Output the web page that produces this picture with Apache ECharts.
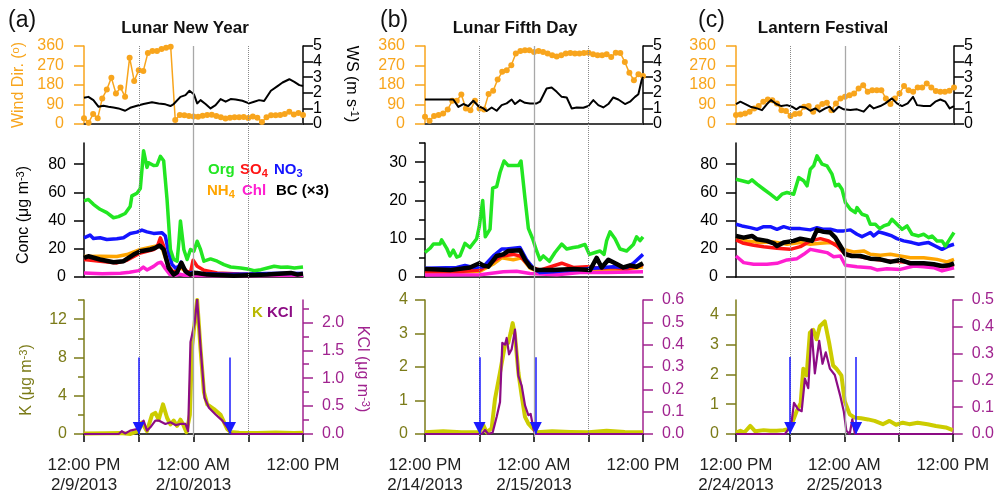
<!DOCTYPE html>
<html>
<head>
<meta charset="utf-8">
<script src="https://cdn.jsdelivr.net/npm/echarts@6/dist/echarts.min.js"></script>
<style>
  html, body { margin: 0; padding: 0; background: #fff; }
  #chart { width: 997px; height: 495px; }
</style>
</head>
<body>
<div id="chart"></div>
<script>
// ---------- data (hours after 12:00 PM of the first day) ----------
const titles = ['Lunar New Year', 'Lunar Fifth Day', 'Lantern Festival'];
const panelTags = ['(a)', '(b)', '(c)'];
const timeTicks = ['12:00 PM', '', '12:00 AM', '', '12:00 PM'];
const dateTicks = [
  ['2/9/2013', '', '2/10/2013', '', ''],
  ['2/14/2013', '', '2/15/2013', '', ''],
  ['2/24/2013', '', '2/25/2013', '', '']
];
const guideHours = [6, 12, 18];

// wind direction, one point every half hour
const wdA = [26,6,46,26,118,159,214,141,168,126,306,199,248,245,328,337,337,346,352,357,18,41,40,37,35,34,38,41,43,37,31,25,29,31,31,32,28,35,29,9,31,40,40,41,46,57,44,51,41];
const wdB = [34,15,37,41,49,67,107,107,136,72,64,107,72,67,138,153,205,241,248,271,325,337,340,340,332,337,332,325,317,312,317,325,328,325,325,328,329,322,317,317,322,309,329,328,286,236,202,230,221];
const wdC = [41,44,49,57,72,83,103,113,110,95,64,60,37,46,49,80,83,57,77,92,98,64,95,118,126,133,141,164,179,149,156,156,156,118,92,118,141,175,156,149,168,168,187,168,152,149,149,153,168];

// wind speed [hour, m/s]
const wsA = [[0,1.68],[0.48,1.74],[1.03,1.53],[1.58,1.11],[2.13,1.17],[2.68,1.11],[3.23,1.06],[3.78,1.0],[4.51,0.85],[5.06,1.04],[5.8,1.17],[6.53,1.28],[7.45,1.4],[8.18,1.32],[8.92,1.26],[9.47,1.15],[9.83,1.28],[10.57,1.74],[11.12,1.85],[11.56,2.13],[12.04,1.91],[12.4,1.32],[12.77,1.53],[13.32,1.28],[13.87,1.0],[14.42,1.21],[14.97,1.6],[15.52,1.43],[16.07,1.6],[16.62,1.57],[17.36,1.49],[18.09,1.32],[18.64,1.43],[19.19,1.53],[19.74,1.47],[20.48,2.13],[21.21,2.43],[21.76,2.66],[22.5,2.87],[23.05,2.7],[23.6,2.49],[24,2.43]];
const wsB = [[0,1.57],[3.12,1.57],[3.67,1.1],[4.22,1.28],[4.77,1.15],[5.32,1.49],[5.87,1.15],[6.42,1.0],[6.79,0.83],[7.34,1.06],[7.89,0.85],[8.44,1.21],[8.99,1.32],[9.54,1.57],[9.91,1.28],[10.46,1.53],[11.0,1.36],[11.56,1.32],[12.29,1.32],[12.66,1.43],[13.39,2.28],[13.94,2.34],[14.5,2.06],[15.05,1.74],[15.6,1.7],[16.15,1.0],[16.7,1.06],[17.43,1.04],[17.98,1.15],[18.53,1.53],[19.08,1.21],[19.63,1.06],[20.18,1.28],[20.73,1.7],[21.28,1.57],[22.02,1.28],[22.57,1.43],[23.12,1.74],[23.49,1.91],[23.85,2.81],[24,3.02]];
const wsC = [[0,1.28],[0.48,1.43],[1.03,1.28],[1.58,1.11],[2.31,1.0],[2.86,0.89],[3.41,1.28],[3.85,1.53],[4.44,1.28],[4.99,1.15],[5.61,1.21],[6.17,1.11],[6.64,0.94],[7.08,1.11],[7.63,1.06],[8.18,0.85],[8.73,1.0],[9.21,0.79],[9.83,1.0],[10.31,1.11],[10.75,0.79],[11.3,1.11],[11.85,0.94],[12.59,0.89],[13.32,0.94],[14.06,0.79],[14.72,1.21],[15.16,1.0],[15.89,1.15],[16.44,1.32],[17.17,1.64],[17.72,1.32],[18.28,1.15],[18.9,1.32],[19.49,1.74],[19.93,1.21],[20.66,1.15],[21.39,1.15],[21.94,1.43],[22.5,1.57],[23.05,1.43],[23.52,1.0],[24,1.15]];

// concentrations [hour, ug m-3]
const orgA = [[0,54],[0.48,55],[1.03,51.5],[1.76,48],[2.5,45.6],[3.23,42],[3.78,42.8],[4.51,45],[5.06,50],[5.25,57.5],[5.8,59.4],[6.17,62.7],[6.53,89.5],[6.9,77.7],[7.08,81],[7.63,79],[8.0,79.3],[8.37,85.5],[8.73,82.4],[9.1,55],[9.47,19.5],[9.83,12.4],[10.2,11.2],[10.39,24.2],[10.57,39.7],[10.94,19.5],[11.3,12.4],[11.67,19.5],[12.04,18.3],[12.4,25.4],[12.77,19.5],[13.14,11.2],[13.87,12.8],[14.6,11.2],[15.34,8.8],[16.07,7.1],[17.17,6.4],[17.9,5.7],[18.64,4.5],[19.38,5.2],[20.1,6.4],[20.84,7.6],[21.58,6.9],[22.3,7.1],[23.05,6.4],[24,7.1]];
const so4A = [[0,12.4],[1.76,11.2],[3.6,10],[4.7,11.9],[6.17,17],[7.63,19.5],[8.0,21],[8.37,27.8],[8.73,21.9],[9.28,7.6],[9.83,2.9],[10.57,8],[11.3,4],[11.67,3.3],[11.96,11.9],[12.4,7.6],[13.14,4.8],[14.6,2.9],[17,2.2],[20,2.0],[24,2.2]];
const no3A = [[0,27.8],[0.66,29.7],[1.03,27.3],[1.76,27.8],[2.5,26.6],[3.6,27.1],[4.33,27.8],[5.06,30.9],[5.8,31.8],[6.35,33.3],[6.9,32],[7.63,30.9],[8.55,31.4],[8.92,29],[9.28,17.1],[9.65,8.8],[10.02,6.4],[10.39,7.6],[10.64,10.5],[10.94,6.4],[11.3,2.9],[12.04,3.3],[12.77,2.4],[14.5,2.2],[16,2.0],[18,2.1],[20,2.4],[22,2.6],[24,2.4]];
const nh4A = [[0,14.5],[1.76,14.7],[3.6,14.5],[4.7,15.9],[6.17,19.5],[7.8,21.9],[8.3,22.5],[8.55,20.7],[9.1,10],[9.83,1.7],[10.57,7],[11.3,2.9],[12.04,3.3],[13,2.4],[16,2.0],[20,2.2],[23,2.4],[24,1.8]];
const chlA = [[0,2.8],[2,2.3],[4,2.7],[5,3.3],[6,4.5],[6.5,7],[6.9,5],[7.63,7.5],[8.1,9.8],[8.45,10.5],[8.9,6],[9.4,1.8],[10,1.2],[10.5,2],[11,1.2],[12,1.1],[16,0.9],[20,1.0],[24,1.2]];
const bcA = [[0,13.5],[0.48,14.7],[1.76,12.4],[3.23,10.5],[4.33,11.2],[5.43,15.9],[6.17,18.3],[7.27,19.5],[7.82,20.7],[8.3,22.3],[8.73,19.5],[9.28,6.4],[9.83,1.7],[10.2,3.3],[10.68,10],[11.12,4],[11.67,1.7],[12.04,2.9],[12.4,2.9],[13.5,1.7],[16.4,0.9],[20.1,1.7],[22.67,2.9],[23.4,1.7],[24,2.4]];

const orgB = [[0,6.4],[0.55,7.5],[0.92,8.6],[1.65,8.6],[1.83,9.7],[2.39,7.5],[2.75,5.5],[3.12,7],[3.49,5.2],[3.85,5.5],[4.4,8.8],[4.95,7.7],[5.69,10],[5.98,13.2],[6.35,20],[6.64,10.5],[7.16,12.5],[7.45,23.2],[7.89,23.6],[8.26,27.3],[8.7,30.3],[9.17,29.1],[9.72,29.1],[10.28,29.1],[10.57,30.3],[11.01,20.5],[11.38,12.7],[11.85,10],[12.29,6.8],[12.66,4.5],[13.03,5.5],[13.69,4.1],[14.31,6.4],[15.05,8.6],[15.6,7.3],[16.33,7.7],[16.88,7.9],[17.61,8.5],[18.09,5.9],[18.72,6.4],[19.27,6.8],[19.71,5.9],[20.0,9.5],[20.37,11.8],[20.92,10],[21.47,7.3],[22.2,6.8],[22.94,8.5],[23.3,10.5],[23.67,9.5],[24,10.5]];
const so4B = [[0,1.4],[3.49,1.4],[6.06,1.8],[7.52,4.1],[8.44,5.5],[9.72,5.9],[10.46,5.5],[11.56,2.7],[12.66,1.8],[15.05,3.6],[16.33,2.5],[17.8,2.7],[19.27,2.3],[20.73,2.5],[22.2,2.1],[24,3.2]];
const no3B = [[0,2.3],[3.49,2.5],[4.4,3],[5.32,2.5],[6.42,2.7],[7.52,5.5],[8.44,7.3],[8.99,7.3],[10.46,7.7],[11.19,4.5],[11.93,2.3],[12.66,1.2],[14.13,1.4],[16.33,1.8],[18.53,2.3],[20.73,2.7],[22.2,2.5],[22.94,3.6],[24,5.9]];
const nh4B = [[0,0.9],[3.49,1.2],[6.06,1.5],[7.52,3.4],[8.44,5],[9.72,4.5],[10.64,5],[11.56,2.3],[12.66,1.2],[14.86,1.5],[17.06,2.3],[19.27,1.8],[21.83,1.8],[24,2.7]];
const chlB = [[0,0.5],[6.06,0.6],[8.62,1.4],[10.09,1.5],[11.56,0.9],[14.5,0.6],[17.06,1.2],[20,1.2],[24,1.4]];
const bcB = [[0,2.1],[2.75,1.8],[4.95,2.5],[5.98,3.6],[6.42,3],[6.97,2.7],[7.89,5.5],[8.62,5.9],[9.17,6.8],[10.46,7],[11.01,4.5],[11.56,2.7],[12.29,1.8],[14.13,1.8],[16.33,2.1],[18.17,1.8],[18.9,5],[19.45,2.5],[20.18,4.5],[21.1,3.4],[21.83,2.5],[22.57,3],[23.3,2.7],[24,3.6]];

const orgC = [[0,69.3],[0.66,68.2],[1.39,67],[1.76,68.9],[2.31,65.8],[3.05,62.2],[3.78,58.7],[4.51,55.1],[5.06,58.7],[5.61,59.9],[6.35,58.7],[6.9,70.5],[7.45,68.2],[7.82,64.6],[8.18,76.4],[8.55,78.8],[8.92,85.9],[9.47,80],[10.02,78.8],[10.57,72.9],[10.94,64.6],[11.3,65.8],[11.67,62.2],[12.04,52.8],[12.59,48],[13.14,45.7],[13.32,49.2],[13.87,44.5],[14.42,43.3],[14.79,37.4],[15.34,37.4],[15.82,34.3],[16.26,36.2],[16.81,37.4],[17.17,40.9],[17.72,37.4],[18.28,33.8],[18.83,36.2],[19.38,30.3],[20.11,29.1],[20.66,30.3],[21.21,27.9],[21.58,29.1],[22.13,25.6],[22.68,25.6],[23.05,22],[23.41,25.6],[24,31.5]];
const so4C = [[0,26.3],[0.84,23.9],[1.94,22.5],[3.05,21.5],[4.51,20.4],[5.98,19.6],[7.08,21.5],[8.18,25.6],[9.28,27.2],[10.2,25.6],[11.12,22],[11.85,17.3],[12.59,15.4],[13.69,14.4],[14.79,13],[15.89,12.1],[16.99,11.4],[18.46,10.7],[19.93,9.7],[21.39,9],[22.86,7.3],[24,8.3]];
const no3C = [[0,37.4],[0.66,36.2],[1.58,35],[2.31,33.8],[3.05,35.7],[3.78,35.7],[4.51,33.8],[5.25,35.7],[5.98,34.3],[7.08,34.3],[8.18,33.4],[8.92,35],[9.65,33.8],[10.39,33.8],[11.12,32.7],[11.85,32.7],[12.59,33.4],[13.32,30.3],[13.87,28.6],[14.42,30.3],[14.79,31.5],[15.16,29.1],[15.71,32],[16.26,31],[16.62,30.3],[17.17,29.1],[17.72,27.2],[18.46,25.6],[19.38,24.4],[20.11,23.2],[20.66,23.9],[21.21,24.4],[21.94,22],[22.68,19.6],[23.41,22],[24,23.2]];
const nh4C = [[0,27.9],[1.21,25.6],[2.68,24.4],[4.15,24.9],[5.61,23.2],[7.08,24.4],[8.18,23.2],[9.28,23.9],[10.39,24.4],[11.12,23.2],[11.85,19.6],[12.95,17.8],[14.06,18.5],[14.79,16.1],[15.89,15.4],[16.99,16.1],[18.09,14.9],[19.19,13.7],[20.66,13.7],[22.13,12.5],[23.23,10.7],[24,12.5]];
const chlC = [[0,14.9],[0.84,10.2],[1.94,9],[3.41,9],[4.51,9.7],[5.61,12.1],[6.72,13],[7.45,16.1],[8.18,19.6],[9.1,18.5],[10.02,17.3],[10.75,14.4],[11.49,14.9],[12.04,8.3],[13.32,7.3],[14.79,6.6],[15.52,5],[16.62,5.9],[18.09,5.4],[19.56,7.8],[20.66,7.3],[21.76,6.6],[22.68,4.3],[24,6.6]];
const bcC = [[0,29.1],[0.84,27.9],[1.76,29.1],[2.31,26.7],[3.41,25.6],[4.15,23.9],[4.51,22],[5.25,24.4],[6.35,25.6],[7.08,27.2],[7.82,26.3],[8.37,25.6],[8.92,33.4],[9.65,32],[10.39,31.5],[10.94,27.9],[11.49,22],[12.04,16.1],[12.77,14.9],[13.69,14.9],[14.79,13],[15.89,12.5],[16.99,10.7],[18.09,12.1],[19.19,9.7],[20.66,9.7],[21.76,9],[22.68,7.8],[23.41,8.3],[24,9.7]];

// potassium [hour, ug m-3]
const kA = [[0,0.05],[2.5,0.07],[4,0.1],[5.1,0],[5.6,0.2],[5.98,0.3],[6.35,1.2],[6.53,1.4],[6.9,0.3],[7.45,2],[7.82,2.2],[8.18,1.5],[8.66,3.1],[9.1,1.7],[9.47,1],[9.83,1.4],[10.2,0.85],[10.57,1.5],[10.86,1],[11.23,0.2],[11.6,2],[11.85,9.2],[12.4,14],[12.77,8.9],[13.14,4.4],[13.5,3.1],[14.24,2.6],[14.97,2.0],[15.7,0.5],[16.07,0.2],[17,0.12],[19,0.1],[21,0.15],[23,0.1],[24,0.12]];
const kclA = [[0,0],[3.8,0],[4.14,0.05],[4.51,0.01],[5.06,0.06],[5.8,0.09],[6.17,0.15],[6.53,0.24],[6.9,0.06],[7.27,0.12],[7.82,0.24],[8.18,0.24],[8.37,0.21],[8.92,0.18],[9.47,0.21],[10.02,0.16],[10.57,0.18],[11.12,0.18],[11.41,0.05],[11.67,1.65],[12.11,1.97],[12.4,2.41],[12.77,1.56],[13.21,0.65],[13.69,0.47],[14.42,0.35],[15.16,0.24],[15.7,0.12],[16.07,0.01],[16.3,0],[24,0]];
const kB = [[0,0.05],[2,0.08],[4,0.05],[5.98,0.05],[6.42,0.27],[6.79,0.05],[7.34,0.17],[7.71,1.05],[8.26,1.84],[8.81,2.67],[9.17,2.72],[9.43,3.02],[9.65,3.31],[9.91,2.92],[10.28,1.84],[10.64,1.15],[11.01,0.51],[11.38,0.31],[11.85,0.17],[12.29,0.05],[14,0.08],[16,0.06],[18,0.05],[20,0.1],[22,0.06],[24,0.05]];
const kclB = [[0,0],[6.24,0],[6.61,0.018],[6.97,0],[7.45,0.007],[7.89,0.077],[8.26,0.143],[8.51,0.408],[8.81,0.4],[8.99,0.43],[9.25,0.357],[9.54,0.38],[9.91,0.467],[10.28,0.26],[10.64,0.217],[11.01,0.128],[11.38,0.084],[11.63,0.09],[11.93,0.025],[12.11,0],[24,0]];
const kC = [[0,0.05],[0.48,0.11],[0.92,0.05],[1.58,0.27],[2.13,0.09],[3.05,0.13],[3.78,0.11],[4.51,0.11],[5.25,0.13],[5.8,0.16],[6.17,0.33],[6.72,0.77],[7.16,1.04],[7.45,2.19],[7.82,1.97],[8.18,3.4],[8.55,3.5],[8.92,3.18],[9.28,3.62],[9.83,3.78],[10.31,3.07],[10.75,2.3],[11.12,2.19],[11.67,1.97],[12.04,1.1],[12.59,0.66],[13.14,0.55],[13.87,0.53],[14.61,0.49],[15.34,0.44],[16.26,0.33],[16.99,0.44],[17.72,0.31],[18.46,0.38],[19.19,0.33],[20.11,0.38],[21.21,0.33],[22.13,0.27],[23.23,0.22],[24,0.13]];
const kclC = [[0,0],[5.43,0],[5.8,0.018],[6.17,0.049],[6.42,0.116],[6.9,0.091],[7.27,0.085],[7.63,0.207],[8.0,0.171],[8.37,0.39],[8.73,0.226],[9.21,0.348],[9.58,0.262],[9.94,0.305],[10.39,0.244],[10.94,0.22],[11.56,0.14],[11.93,0.085],[12.22,0.012],[12.59,0],[12.88,0.055],[13.17,0],[24,0]];

// blue arrows: hour of each arrow, K value at arrow top
const arrowHours = [[6, 16], [6, 12.2], [6, 13.3]];
const arrowTop = [8, 2.29, 2.59];

// axis ticks
const wdTicks = [0, 90, 180, 270, 360];
const wsTicks = [0, 1, 2, 3, 4, 5];
const concMax = [95, 35, 95];
const concTicks = [[0, 20, 40, 60, 80], [0, 10, 20, 30], [0, 20, 40, 60, 80]];
const concMinor = [[], [5, 15, 25, 35], []];
const kMax = [14, 4, 4.5];
const kTicks = [[0, 4, 8, 12], [0, 1, 2, 3, 4], [0, 1, 2, 3, 4]];
const kMinor = [[2, 6, 10, 14], [], []];
const kclMax = [2.4, 0.6, 0.5];
const kclTicks = [[0, 0.5, 1, 1.5, 2], [0, 0.1, 0.2, 0.3, 0.4, 0.5, 0.6], [0, 0.1, 0.2, 0.3, 0.4, 0.5]];
const kclMinor = [[0.25, 0.75, 1.25, 1.75, 2.25], [], []];

// ---------- layout / style ----------
const FONT = '"Liberation Sans", Arial, Helvetica, sans-serif';
const colLeft = [84, 425, 736];
const colWidth = [219, 218, 218];
const rowTop = [46, 143, 300];
const rowHeight = [78, 134, 137];
const cWD = '#f8a51d', cK = '#cccc00', cKAxis = '#7b7b18', cKCl = '#8c0c84', cKClAxis = '#a0238f';
const cOrg = '#22e622', cSO4 = '#ff1414', cNO3 = '#1414ff', cNH4 = '#ffa500', cChl = '#ff1ed0', cBC = '#000';

const panels = [
  { wd: wdA, ws: wsA, org: orgA, so4: so4A, no3: no3A, nh4: nh4A, chl: chlA, bc: bcA, k: kA, kcl: kclA },
  { wd: wdB, ws: wsB, org: orgB, so4: so4B, no3: no3B, nh4: nh4B, chl: chlB, bc: bcB, k: kB, kcl: kclB },
  { wd: wdC, ws: wsC, org: orgC, so4: so4C, no3: no3C, nh4: nh4C, chl: chlC, bc: bcC, k: kC, kcl: kclC }
];

// labels: values to print; ticks: where tick marks go (none -> no line, no ticks)
function yAxisDef(gridIndex, position, max, ticks, labels, color, margin, decimals) {
  const bare = !ticks;
  return {
    type: 'value', gridIndex, position, min: 0, max,
    axisLine: { show: !bare, onZero: false, lineStyle: { color, width: 1.5 } },
    axisTick: { show: !bare, length: 10, interval: 0, customValues: ticks || labels, lineStyle: { color, width: 1.5 } },
    axisLabel: { show: true, margin, interval: 0, customValues: labels, color, fontSize: 16,
      fontFamily: FONT, showMinLabel: true, showMaxLabel: true, hideOverlap: false,
      formatter: v => v.toFixed(decimals) },
    splitLine: { show: false }
  };
}
function minorAxisDef(gridIndex, position, max, ticks, color) {
  return {
    type: 'value', gridIndex, position, min: 0, max,
    axisLine: { show: false, onZero: false },
    axisTick: { show: true, length: 6, interval: 0, customValues: ticks, lineStyle: { color, width: 1.5 } },
    axisLabel: { show: false }, splitLine: { show: false }
  };
}
function lineSeries(xi, yi, data, color, width, z) {
  return { type: 'line', xAxisIndex: xi, yAxisIndex: yi, data, symbol: 'none', z: z || 3,
    lineStyle: { color, width, join: 'round' }, itemStyle: { color } };
}

const grids = [], xAxes = [], yAxes = [], series = [];
panels.forEach((p, c) => {
  const L = colLeft[c], W = colWidth[c], g0 = c * 4;
  for (let r = 0; r < 3; r++) grids.push({ left: L, top: rowTop[r], width: W, height: rowHeight[r] });
  grids.push({ left: L, top: rowTop[0], width: W, height: rowTop[2] + rowHeight[2] - rowTop[0] });

  for (let r = 0; r < 4; r++) {
    const bottom = r === 2;
    xAxes.push({
      type: 'value', gridIndex: g0 + r, min: 0, max: 24, interval: 6, show: r !== 3,
      axisLine: { onZero: false, lineStyle: { color: r === 0 ? '#444' : '#000', width: r === 0 ? 2 : 1.5 } },
      axisTick: { show: bottom, length: 8, lineStyle: { color: '#000', width: 1.5 } },
      axisLabel: { show: bottom, margin: 21, lineHeight: 20, fontSize: 17, color: '#222', fontFamily: FONT,
        showMinLabel: true, showMaxLabel: true,
        formatter: v => { const i = Math.round(v / 6); return timeTicks[i] + (dateTicks[c][i] ? '\n' + dateTicks[c][i] : ''); } },
      splitLine: { show: false }
    });
  }

  const yWD = yAxes.push(yAxisDef(g0, 'left', 360, wdTicks, wdTicks, cWD, 20, 0)) - 1;
  // wind speed labels are split over two axes so none of them gets dropped as overlapping
  const yWS = yAxes.push(yAxisDef(g0, 'right', 5, wsTicks, wsTicks.filter((v, i) => i % 2 === 0), '#000', 10, 0)) - 1;
  yAxes.push(yAxisDef(g0, 'right', 5, null, wsTicks.filter((v, i) => i % 2 === 1), '#000', 10, 0));
  const yConc = yAxes.push(yAxisDef(g0 + 1, 'left', concMax[c], concTicks[c], concTicks[c], '#000', 18, 0)) - 1;
  if (concMinor[c].length) yAxes.push(minorAxisDef(g0 + 1, 'left', concMax[c], concMinor[c], '#000'));
  const yK = yAxes.push(yAxisDef(g0 + 2, 'left', kMax[c], kTicks[c], kTicks[c], cKAxis, 17, 0)) - 1;
  if (kMinor[c].length) yAxes.push(minorAxisDef(g0 + 2, 'left', kMax[c], kMinor[c], cKAxis));
  const yKCl = yAxes.push(yAxisDef(g0 + 2, 'right', kclMax[c], kclTicks[c], kclTicks[c], cKClAxis, 19, 1)) - 1;
  if (kclMinor[c].length) yAxes.push(minorAxisDef(g0 + 2, 'right', kclMax[c], kclMinor[c], cKClAxis));
  const yOv = yAxes.push({ type: 'value', gridIndex: g0 + 3, min: 0, max: 1, show: false }) - 1;

  // vertical guide lines through all three rows
  series.push({
    type: 'line', xAxisIndex: g0 + 3, yAxisIndex: yOv, data: [], silent: true, z: 1,
    markLine: { silent: true, symbol: ['none', 'none'], label: { show: false },
      data: guideHours.map(h => ({ xAxis: h,
        lineStyle: { type: h === 12 ? 'solid' : 'dotted', color: h === 12 ? '#a8a8a8' : '#888', width: h === 12 ? 1.3 : 1 } })) }
  });

  // row 1: wind
  series.push({ type: 'line', xAxisIndex: g0, yAxisIndex: yWD, data: p.wd.map((v, i) => [i * 0.5, v]),
    symbol: 'circle', symbolSize: 6, showSymbol: true, z: 3,
    lineStyle: { color: cWD, width: 1.5 }, itemStyle: { color: cWD } });
  series.push(lineSeries(g0, yWS, p.ws, '#000', 2, 4));

  // row 2: aerosol species
  series.push(lineSeries(g0 + 1, yConc, p.nh4, cNH4, 3.5));
  series.push(lineSeries(g0 + 1, yConc, p.so4, cSO4, 3.5));
  series.push(lineSeries(g0 + 1, yConc, p.chl, cChl, 3.5));
  series.push(lineSeries(g0 + 1, yConc, p.no3, cNO3, 3.5));
  series.push(lineSeries(g0 + 1, yConc, p.org, cOrg, 3.5));
  series.push(lineSeries(g0 + 1, yConc, p.bc, cBC, 4.5));

  // row 3: K and KCl
  series.push(lineSeries(g0 + 2, yK, p.k, cK, 4));
  series.push(lineSeries(g0 + 2, yKCl, p.kcl, cKCl, 2.2));
  series.push({
    type: 'line', xAxisIndex: g0 + 2, yAxisIndex: yK, data: [], silent: true, z: 6,
    markLine: { silent: true, symbol: ['none', 'triangle'], symbolSize: 12, symbolOffset: [[0, 0], [0, 6]],
      label: { show: false }, lineStyle: { color: '#1a1aff', width: 1.5, type: 'solid' }, itemStyle: { color: '#1a1aff' },
      data: arrowHours[c].map(h => [{ coord: [h, arrowTop[c]] }, { coord: [h, 0] }]) }
  });
});

// ---------- texts ----------
function txt(x, y, text, style, rotation) {
  return { type: 'text', x, y, rotation: rotation || 0, silent: true,
    style: Object.assign({ text, fontFamily: FONT, fontSize: 16, fill: '#000', align: 'center', verticalAlign: 'middle', lineHeight: 18 }, style) };
}
const supRich = col => ({ s: { fontSize: 11, fill: col, fontFamily: FONT, lineHeight: 7, verticalAlign: 'top' } });
const subStyle = (col) => ({ fontSize: 11, fontWeight: 'bold', fill: col, fontFamily: FONT, lineHeight: 9, verticalAlign: 'bottom' });
const graphics = [];
const titleX = [185, 515, 823];
const tagX = [8, 380, 698];
titles.forEach((t, i) => {
  graphics.push(txt(titleX[i], 28, t, { fontSize: 17, fontWeight: 'bold', fill: '#111' }));
  graphics.push(txt(tagX[i], 21, panelTags[i], { fontSize: 23, align: 'left', fill: '#111' }));
});
graphics.push(txt(19, 85, 'Wind Dir. ({s|o})', { fill: cWD, rich: supRich(cWD) }, Math.PI / 2));
graphics.push(txt(351, 84, 'WS (m s{s|-1})', { fill: '#000', rich: supRich('#000') }, -Math.PI / 2));
graphics.push(txt(24, 215, 'Conc (μg m{s|-3})', { fill: '#000', rich: supRich('#000') }, Math.PI / 2));
graphics.push(txt(27, 380, 'K (μg m{s|-3})', { fill: cKAxis, rich: supRich(cKAxis) }, Math.PI / 2));
graphics.push(txt(362, 369, 'KCl (μg m{s|-3})', { fill: cKClAxis, rich: supRich(cKClAxis) }, -Math.PI / 2));

const bold = { fontSize: 15, fontWeight: 'bold', align: 'left' };
graphics.push(txt(208, 170, 'Org', Object.assign({ fill: cOrg }, bold)));
graphics.push(txt(240, 170, 'SO{d|4}', Object.assign({ fill: cSO4, rich: { d: subStyle(cSO4) } }, bold)));
graphics.push(txt(274, 170, 'NO{d|3}', Object.assign({ fill: cNO3, rich: { d: subStyle(cNO3) } }, bold)));
graphics.push(txt(207, 191, 'NH{d|4}', Object.assign({ fill: cNH4, rich: { d: subStyle(cNH4) } }, bold)));
graphics.push(txt(242, 191, 'Chl', Object.assign({ fill: cChl }, bold)));
graphics.push(txt(276, 191, 'BC (×3)', Object.assign({ fill: '#000' }, bold)));
graphics.push(txt(252, 313, 'K', Object.assign({ fill: '#b8b800' }, bold)));
graphics.push(txt(267, 313, 'KCl', Object.assign({ fill: cKCl }, bold)));

const chart = echarts.init(document.getElementById('chart'));
chart.setOption({
  animation: false,
  backgroundColor: '#fff',
  grid: grids,
  xAxis: xAxes,
  yAxis: yAxes,
  series: series,
  graphic: graphics
});
</script>
</body>
</html>
